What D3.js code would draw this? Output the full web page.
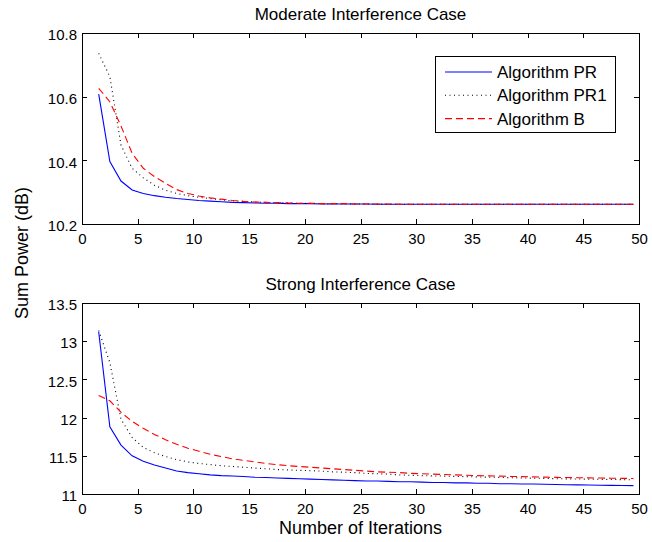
<!DOCTYPE html>
<html>
<head>
<meta charset="utf-8">
<script src="https://cdn.jsdelivr.net/npm/d3@7"></script>
<style>
  body { margin: 0; background: #fff; }
  text { font-family: "Liberation Sans", Arial, sans-serif; fill: #000; }
  .axis path, .axis line { stroke: #000; shape-rendering: crispEdges; }
</style>
</head>
<body>
<div id="chart"></div>
<script>
var width = 652, height = 542;

// iterations (curves are sampled at half-steps)
var iterations = [1.5, 2.5, 3.5, 4.5, 5.5, 6.5, 7.5, 8.5, 9.5, 10.5, 11.5, 12.5, 13.5, 14.5, 15.5,
  16.5, 17.5, 18.5, 19.5, 20.5, 21.5, 22.5, 23.5, 24.5, 25.5, 26.5, 27.5, 28.5, 29.5, 30.5,
  31.5, 32.5, 33.5, 34.5, 35.5, 36.5, 37.5, 38.5, 39.5, 40.5, 41.5, 42.5, 43.5, 44.5, 45.5,
  46.5, 47.5, 48.5, 49.5];

var seriesNames = ["Algorithm PR", "Algorithm PR1", "Algorithm B"];

// moderate interference case
var modPR = [10.608, 10.396, 10.335, 10.307, 10.296, 10.289, 10.284, 10.280, 10.277, 10.274,
  10.272, 10.270, 10.268, 10.267, 10.266, 10.265, 10.265, 10.264, 10.264, 10.264,
  10.263, 10.263, 10.263, 10.263, 10.263, 10.262, 10.262, 10.262, 10.262, 10.262,
  10.262, 10.262, 10.262, 10.262, 10.262, 10.262, 10.262, 10.262, 10.262, 10.262,
  10.262, 10.262, 10.262, 10.262, 10.262, 10.262, 10.262, 10.262, 10.262];
var modPR1 = [10.736, 10.663, 10.448, 10.375, 10.345, 10.322, 10.306, 10.296, 10.289, 10.284,
  10.280, 10.276, 10.273, 10.271, 10.269, 10.268, 10.267, 10.266, 10.265, 10.265,
  10.264, 10.264, 10.264, 10.263, 10.263, 10.263, 10.262, 10.262, 10.262, 10.262,
  10.262, 10.262, 10.262, 10.262, 10.262, 10.262, 10.262, 10.262, 10.262, 10.262,
  10.262, 10.262, 10.262, 10.262, 10.262, 10.262, 10.262, 10.262, 10.262];
var modB = [10.626, 10.584, 10.508, 10.422, 10.375, 10.349, 10.328, 10.308, 10.296, 10.288,
  10.282, 10.278, 10.274, 10.271, 10.269, 10.268, 10.267, 10.266, 10.265, 10.265,
  10.264, 10.264, 10.264, 10.263, 10.263, 10.263, 10.263, 10.262, 10.262, 10.262,
  10.262, 10.262, 10.262, 10.262, 10.262, 10.262, 10.262, 10.262, 10.262, 10.262,
  10.262, 10.262, 10.262, 10.262, 10.262, 10.262, 10.262, 10.262, 10.262];

// strong interference case
var strPR = [13.12, 11.88, 11.64, 11.50, 11.43, 11.38, 11.34, 11.30, 11.28, 11.265,
  11.25, 11.24, 11.235, 11.23, 11.22, 11.215, 11.21, 11.205, 11.20, 11.195,
  11.19, 11.185, 11.18, 11.175, 11.17, 11.17, 11.165, 11.16, 11.16, 11.155,
  11.15, 11.15, 11.145, 11.145, 11.14, 11.14, 11.135, 11.135, 11.13, 11.13,
  11.128, 11.125, 11.122, 11.12, 11.118, 11.115, 11.113, 11.111, 11.11];
var strPR1 = [13.14, 12.72, 11.98, 11.74, 11.61, 11.54, 11.49, 11.45, 11.42, 11.40,
  11.385, 11.37, 11.36, 11.35, 11.34, 11.33, 11.32, 11.315, 11.31, 11.305,
  11.30, 11.29, 11.285, 11.28, 11.27, 11.265, 11.26, 11.25, 11.245, 11.24,
  11.237, 11.234, 11.23, 11.227, 11.224, 11.22, 11.217, 11.214, 11.21, 11.207,
  11.204, 11.20, 11.198, 11.196, 11.194, 11.192, 11.19, 11.188, 11.186];
var strB = [12.29, 12.22, 12.07, 11.95, 11.86, 11.78, 11.71, 11.65, 11.60, 11.56,
  11.52, 11.49, 11.46, 11.44, 11.42, 11.40, 11.385, 11.37, 11.36, 11.35,
  11.34, 11.33, 11.32, 11.31, 11.30, 11.29, 11.285, 11.28, 11.27, 11.265,
  11.26, 11.255, 11.25, 11.245, 11.24, 11.237, 11.234, 11.23, 11.227, 11.224,
  11.221, 11.218, 11.215, 11.213, 11.211, 11.209, 11.207, 11.205, 11.203];

var xTicks = [0, 5, 10, 15, 20, 25, 30, 35, 40, 45, 50];
var modYTicks = [10.2, 10.4, 10.6, 10.8];
var strYTicks = [11, 11.5, 12, 12.5, 13, 13.5];

// line styles per series
var styles = [
  {color: "#0000ff", dash: null},
  {color: "#000000", dash: "1,3.5"},
  {color: "#ff0000", dash: "7,4"}
];

var left = 82, right = 639;

var svg = d3.select("#chart").append("svg")
  .attr("width", width)
  .attr("height", height);

var x = d3.scaleLinear().domain([0, 50]).range([0, right - left]);

function drawPanel(top, bottom, yDomain, yTicks, series, title) {
  var h = bottom - top, w = right - left;
  var y = d3.scaleLinear().domain(yDomain).range([h, 0]);
  var g = svg.append("g").attr("transform", "translate(" + left + "," + top + ")");

  g.append("rect")
    .attr("width", w).attr("height", h)
    .style("fill", "#fff");

  var line = d3.line()
    .x(function(d, i) { return x(iterations[i]); })
    .y(function(d) { return y(d); });

  series.forEach(function(s, i) {
    g.append("path")
      .datum(s)
      .attr("d", line)
      .style("fill", "none")
      .style("stroke", styles[i].color)
      .style("stroke-width", 1.1)
      .style("stroke-dasharray", styles[i].dash);
  });

  // axes with inward ticks on all four sides
  g.append("g").attr("class", "axis")
    .attr("transform", "translate(0," + h + ")")
    .call(d3.axisBottom(x).tickValues(xTicks).tickSizeInner(-5).tickSizeOuter(0).tickPadding(9)
      .tickFormat(function(d) { return d; }))
    .call(function(a) { a.selectAll("text").style("font-size", "15px"); });
  g.append("g").attr("class", "axis")
    .call(d3.axisTop(x).tickValues(xTicks).tickSizeInner(-5).tickSizeOuter(0).tickFormat(""));
  g.append("g").attr("class", "axis")
    .call(d3.axisLeft(y).tickValues(yTicks).tickSizeInner(-5).tickSizeOuter(0).tickPadding(5)
      .tickFormat(function(d) { return String(d); }))
    .call(function(a) { a.selectAll("text").style("font-size", "15px").attr("dy", "0.45em"); });
  g.append("g").attr("class", "axis")
    .attr("transform", "translate(" + w + ",0)")
    .call(d3.axisRight(y).tickValues(yTicks).tickSizeInner(-5).tickSizeOuter(0).tickFormat(""));

  svg.selectAll(".axis text").style("font-family", "'Liberation Sans', Arial, sans-serif");

  svg.append("text")
    .attr("x", left + w / 2)
    .attr("y", top - 13)
    .attr("text-anchor", "middle")
    .style("font-size", "17px")
    .text(title);

  return g;
}

var topPanel = drawPanel(33, 224, [10.2, 10.8], modYTicks, [modPR, modPR1, modB], "Moderate Interference Case");
drawPanel(303, 494, [11, 13.5], strYTicks, [strPR, strPR1, strB], "Strong Interference Case");

// legend in the top panel
var legend = svg.append("g").attr("transform", "translate(435,56)");
legend.append("rect")
  .attr("width", 180).attr("height", 76)
  .style("fill", "#fff").style("stroke", "#000").style("stroke-width", 1)
  .style("shape-rendering", "crispEdges");

var rows = legend.selectAll(".row")
  .data(seriesNames)
  .enter().append("g")
  .attr("class", "row")
  .attr("transform", function(d, i) { return "translate(0," + (16 + i * 23.3) + ")"; });

rows.append("line")
  .attr("x1", 10).attr("x2", 57)
  .style("stroke", function(d, i) { return styles[i].color; })
  .style("stroke-width", 1.1)
  .style("stroke-dasharray", function(d, i) { return styles[i].dash; });

rows.append("text")
  .attr("x", 62)
  .attr("dy", "0.36em")
  .style("font-size", "17px")
  .text(function(d) { return d; });

// axis labels
svg.append("text")
  .attr("x", (left + right) / 2)
  .attr("y", 534)
  .attr("text-anchor", "middle")
  .style("font-size", "18px")
  .text("Number of Iterations");

svg.append("text")
  .attr("transform", "translate(28,253) rotate(-90)")
  .attr("text-anchor", "middle")
  .style("font-size", "18px")
  .text("Sum Power (dB)");
</script>
</body>
</html>
